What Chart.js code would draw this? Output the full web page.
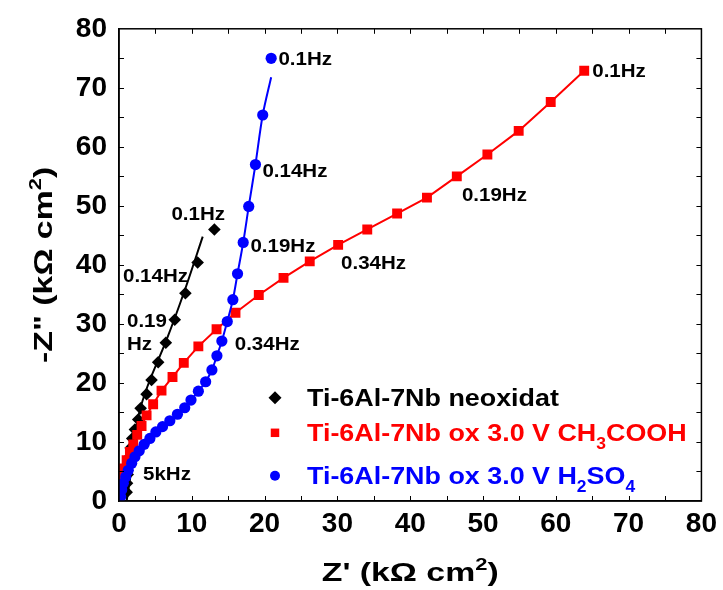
<!DOCTYPE html>
<html>
<head>
<meta charset="utf-8">
<script src="https://cdn.jsdelivr.net/npm/chart.js@4.4.0/dist/chart.umd.min.js"></script>
<style>
  html, body { margin: 0; padding: 0; background: #fff; }
</style>
</head>
<body>
<canvas id="nyquist" width="723" height="590"></canvas>
<script>
"use strict"

// Z' (kOhm cm2) and -Z'' (kOhm cm2)
const neoxZr = [13.1, 10.8, 9.12, 7.66, 6.43, 5.38, 4.47, 3.79, 2.97, 2.64, 2.19, 1.82, 1.6, 1.45, 1.3, 1.2, 1.1, 1.05];
const neoxZi = [46.0, 40.4, 35.2, 30.7, 26.8, 23.5, 20.5, 18.1, 15.7, 13.8, 12.1, 10.6, 9.0, 7.5, 6.0, 4.5, 3.0, 1.5];

const aceticZr = [63.9, 59.3, 54.9, 50.6, 46.4, 42.3, 38.2, 34.1, 30.1, 26.2, 22.6, 19.2, 16.0, 13.4, 10.9, 8.9, 7.35, 5.84, 4.69, 3.79, 3.1, 2.5, 1.96, 1.5, 1.05, 0.68, 0.37, 0.14];
const aceticZi = [72.9, 67.6, 62.7, 58.7, 55.0, 51.4, 48.7, 46.0, 43.4, 40.6, 37.8, 34.9, 31.9, 29.1, 26.2, 23.4, 21.0, 18.7, 16.4, 14.5, 12.7, 11.2, 9.6, 8.3, 6.9, 5.5, 4.2, 3.0];

const sulfZr = [20.9, 19.74, 18.74, 17.82, 17.06, 16.28, 15.64, 14.87, 14.13, 13.45, 12.76, 11.9, 10.9, 9.89, 9.03, 8.03, 6.98, 5.98, 5.06, 4.24, 3.46, 2.78, 2.19, 1.74, 1.27, 0.92, 0.59, 0.37, 0.23];
const sulfZi = [75.0, 65.4, 57.0, 49.9, 43.8, 38.5, 34.1, 30.4, 27.1, 24.6, 22.2, 20.2, 18.6, 17.1, 15.8, 14.7, 13.6, 12.6, 11.7, 10.6, 9.6, 8.5, 7.5, 6.4, 5.2, 4.1, 3.0, 1.9, 0.7];

// fitted curves
const neoxFitZr = [1.05, 1.3, 1.6, 1.9, 2.3, 3.0, 4.24, 6.5, 9.03, 11.5];
const neoxFitZi = [0, 2.0, 4.5, 8.0, 12.0, 16.0, 20.5, 27.2, 35.7, 44.8];
const sulfFitZr = [0.15, 0.23, 0.37, 0.59, 0.92, 1.27, 1.74, 2.19, 2.78, 3.46, 4.24, 5.06, 5.98, 6.98, 8.03, 9.03, 9.89, 10.9, 11.9, 12.76, 13.45, 14.13, 14.87, 15.64, 16.28, 17.06, 17.82, 18.74, 19.74, 20.9];
const sulfFitZi = [0, 0.7, 1.9, 3.0, 4.1, 5.2, 6.4, 7.5, 8.5, 9.6, 10.6, 11.7, 12.6, 13.6, 14.7, 15.8, 17.1, 18.6, 20.2, 22.2, 24.6, 27.1, 30.4, 34.1, 38.5, 43.8, 49.9, 57.0, 65.4, 71.8];

const axisTicks = [0, 10, 20, 30, 40, 50, 60, 70, 80];

const serieNames = ['Ti-6Al-7Nb neoxidat', 'Ti-6Al-7Nb ox 3.0 V CH_3COOH', 'Ti-6Al-7Nb ox 3.0 V H_2SO_4'];
const serieColors = ['#000000', '#ff0000', '#0000ff'];

// frequency labels: Z', -Z'' of the text's left edge
const freqText = ['0.1Hz', '0.14Hz', '0.19', 'Hz', '5kHz', '0.1Hz', '0.14Hz', '0.19Hz', '0.34Hz', '0.1Hz', '0.19Hz', '0.34Hz'];
const freqZr = [7.2, 0.55, 1.1, 1.1, 3.3, 21.9, 19.7, 18.05, 15.9, 65.0, 47.1, 30.5];
const freqZi = [48.7, 38.2, 30.6, 26.7, 4.6, 75.0, 56.0, 43.3, 26.7, 72.9, 51.9, 40.4];

const FONT = '"Liberation Sans", Arial, sans-serif';

const pts = (xs, ys) => xs.map((x, i) => ({ x, y: ys[i] }));

// texto con subindices (_) y superindices (^)
function richText(ctx, str, x, y, size, color, sx, align) {
    const parts = [];
    for (let i = 0; i < str.length; i++) {
        const c = str[i];
        if ((c === '_' || c === '^') && i + 1 < str.length) {
            parts.push({ t: str[i + 1], k: c });
            i++;
        } else if (parts.length && !parts[parts.length - 1].k) {
            parts[parts.length - 1].t += c;
        } else {
            parts.push({ t: c, k: null });
        }
    }
    ctx.save();
    ctx.fillStyle = color;
    ctx.textBaseline = 'alphabetic';
    ctx.textAlign = 'left';
    let total = 0;
    parts.forEach(p => {
        const s = p.k ? size * 0.65 : size;
        ctx.font = `bold ${s}px ${FONT}`;
        p.s = s;
        p.w = ctx.measureText(p.t).width;
        total += p.w;
    });
    ctx.translate(x, y);
    ctx.scale(sx, 1);
    let cx = align === 'center' ? -total / 2 : 0;
    const base = size * 0.36;
    parts.forEach(p => {
        ctx.font = `bold ${p.s}px ${FONT}`;
        let dy = base;
        if (p.k === '_') dy += size * 0.3;
        if (p.k === '^') dy -= size * 0.45;
        ctx.fillText(p.t, cx, dy);
        cx += p.w;
    });
    ctx.restore();
}

const decor = {
    id: 'decor',
    afterDraw(chart) {
        const ctx = chart.ctx;
        const a = chart.chartArea;
        const sx = chart.scales.x, sy = chart.scales.y;

        // marco y ticks interiores
        ctx.save();
        ctx.strokeStyle = '#000';
        ctx.lineWidth = 1.5;
        ctx.strokeRect(a.left, a.top, a.right - a.left, a.bottom - a.top);
        ctx.lineWidth = 1;
        ctx.beginPath();
        for (let v = 5; v < 80; v += 5) {
            const px = Math.round(sx.getPixelForValue(v)) + 0.5;
            ctx.moveTo(px, a.bottom); ctx.lineTo(px, a.bottom - 5);
            ctx.moveTo(px, a.top); ctx.lineTo(px, a.top + 5);
            const py = Math.round(sy.getPixelForValue(v)) + 0.5;
            ctx.moveTo(a.left, py); ctx.lineTo(a.left + 5, py);
            ctx.moveTo(a.right, py); ctx.lineTo(a.right - 5, py);
        }
        ctx.stroke();
        ctx.restore();

        // titulos de ejes
        const cxm = (a.left + a.right) / 2;
        richText(ctx, "Z' (k\u03A9 cm^2)", cxm, 572, 26, '#000', 1.3, 'center');
        ctx.save();
        ctx.translate(43, (a.top + a.bottom) / 2);
        ctx.rotate(-Math.PI / 2);
        richText(ctx, '-Z" (k\u03A9 cm^2)', 0, 0, 26, '#000', 1.3, 'center');
        ctx.restore();

        // etiquetas de frecuencia
        freqText.forEach((t, i) => {
            richText(ctx, t, sx.getPixelForValue(freqZr[i]), sy.getPixelForValue(freqZi[i]), 18, '#000', 1.14, 'left');
        });

        // leyenda
        const styles = ['rectRot', 'rect', 'circle'];
        const radii = [6.5, 6, 5];
        const rowY = [a.top + 369, a.top + 404, a.top + 447];
        serieNames.forEach((name, i) => {
            ctx.save();
            ctx.fillStyle = serieColors[i];
            Chart.helpers.drawPoint(ctx, { pointStyle: styles[i], radius: radii[i], rotation: 0, borderWidth: 0 }, a.left + 156, rowY[i]);
            ctx.restore();
            richText(ctx, name, a.left + 188, rowY[i], 24, serieColors[i], 1.12, 'left');
        });
    }
};

new Chart(document.getElementById('nyquist'), {
    type: 'scatter',
    data: {
        datasets: [
            {
                label: serieNames[2],
                data: pts(sulfZr, sulfZi),
                backgroundColor: serieColors[2],
                pointStyle: 'circle',
                pointRadius: 5.6,
                pointBorderWidth: 0,
                showLine: false,
                order: 1
            },
            {
                label: 'fit H2SO4',
                data: pts(sulfFitZr, sulfFitZi),
                borderColor: serieColors[2],
                borderWidth: 2,
                pointRadius: 0,
                showLine: true,
                tension: 0.3,
                order: 2
            },
            {
                label: serieNames[1],
                data: pts(aceticZr, aceticZi),
                backgroundColor: serieColors[1],
                borderColor: serieColors[1],
                borderWidth: 2,
                pointStyle: 'rect',
                pointRadius: 7,
                pointBorderWidth: 0,
                showLine: true,
                tension: 0,
                order: 3
            },
            {
                label: serieNames[0],
                data: pts(neoxZr, neoxZi),
                backgroundColor: serieColors[0],
                pointStyle: 'rectRot',
                pointRadius: 6.3,
                pointBorderWidth: 0,
                showLine: false,
                order: 4
            },
            {
                label: 'fit neoxidat',
                data: pts(neoxFitZr, neoxFitZi),
                borderColor: serieColors[0],
                borderWidth: 2,
                pointRadius: 0,
                showLine: true,
                tension: 0.3,
                order: 5
            }
        ]
    },
    options: {
        responsive: false,
        animation: false,
        devicePixelRatio: 1,
        layout: { padding: { top: 28, right: 19, left: 0, bottom: 0 } },
        plugins: {
            legend: { display: false },
            tooltip: { enabled: false }
        },
        scales: {
            x: {
                type: 'linear',
                min: 0,
                max: 80,
                afterBuildTicks: s => { s.ticks = axisTicks.map(v => ({ value: v })); },
                afterFit: s => { s.height = 89; },
                ticks: { padding: 6, color: '#000', font: { family: FONT, size: 28, weight: 'bold' } },
                grid: { display: false, drawTicks: false },
                border: { display: true, color: '#000', width: 1.5 }
            },
            y: {
                type: 'linear',
                min: 0,
                max: 80,
                afterBuildTicks: s => { s.ticks = axisTicks.map(v => ({ value: v })); },
                afterFit: s => { s.width = 119; },
                ticks: { padding: 12, color: '#000', font: { family: FONT, size: 28, weight: 'bold' } },
                grid: { display: false, drawTicks: false },
                border: { display: true, color: '#000', width: 1.5 }
            }
        }
    },
    plugins: [decor]
});
</script>
</body>
</html>
